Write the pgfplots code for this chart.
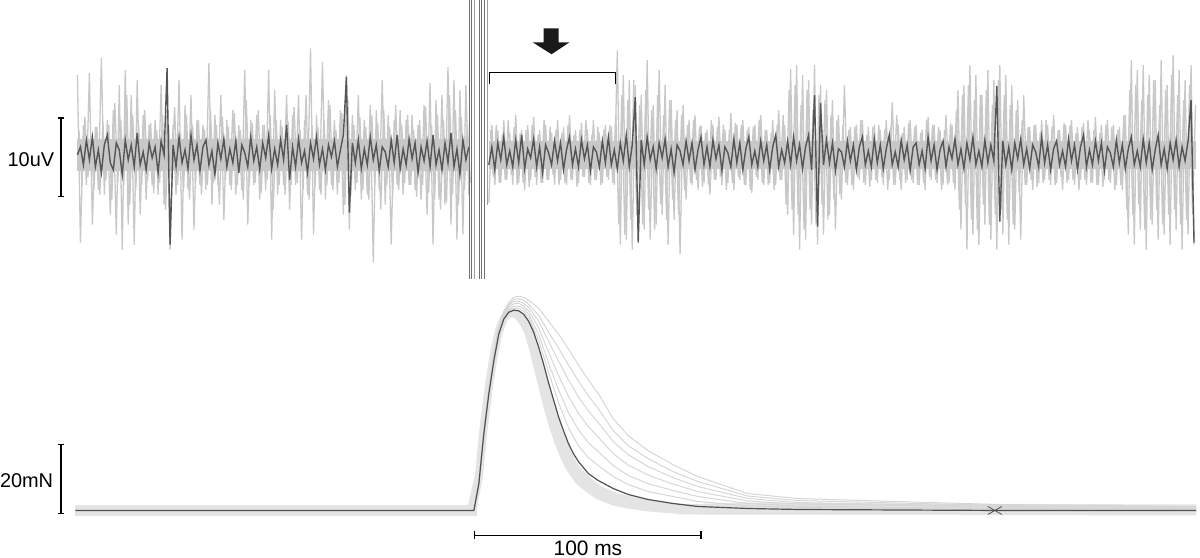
\documentclass[border=0pt]{standalone}
\usepackage{pgfplots}
\pgfplotsset{compat=1.18}
\usepackage{fontspec}
\setmainfont{Liberation Sans}
\definecolor{emglight}{RGB}{200,200,200}
\definecolor{emgdark}{RGB}{85,85,85}
\definecolor{artdark}{RGB}{112,112,112}
\definecolor{artlight}{RGB}{160,160,160}
\definecolor{arrowcol}{RGB}{26,26,26}
\definecolor{forceband}{RGB}{228,228,228}
\definecolor{forceline}{RGB}{214,214,214}
\definecolor{forcedark}{RGB}{80,80,80}
\begin{document}
\begin{tikzpicture}
% ---------------- top panel: EMG ----------------
\begin{axis}[scale only axis, width=600pt, height=279.5pt,
  xmin=0, xmax=1200, ymin=-404, ymax=155, hide axis, clip=false]
\path (axis cs:0,-404) rectangle (axis cs:1200,155);
% core band
\addplot[fill=emglight, draw=none] coordinates {(77,-16)(470,-16)(470,16)(77,16)};
\addplot[fill=emglight, draw=none] coordinates {(490,-14)(1200,-14)(1200,14)(490,14)};
% light (superimposed) EMG traces, sampled every 3 px
\addplot[emglight, line width=0.65pt, mark=none] table[header=false, row sep=\\, x expr=\coordindex*3+77, y index=0] {
80\\-88\\30\\-30\\82\\-70\\28\\-35\\97\\-40\\
35\\-60\\45\\-80\\70\\-95\\85\\-70\\60\\-90\\
75\\-60\\40\\-45\\30\\-30\\35\\-40\\70\\-50\\
45\\-95\\30\\-40\\75\\-85\\50\\-35\\60\\-75\\
35\\-30\\30\\-35\\92\\-50\\40\\-30\\60\\-65\\
35\\-30\\45\\-40\\30\\-35\\85\\-70\\35\\-30\\
40\\-45\\30\\-35\\85\\-85\\65\\-40\\35\\-30\\
60\\-55\\40\\-30\\60\\-85\\35\\-40\\107\\-80\\
40\\-35\\93\\-45\\55\\-30\\35\\-40\\45\\-60\\
80\\-75\\40\\-35\\60\\-45\\35\\-40\\50\\-108\\
45\\-35\\75\\-50\\40\\-90\\35\\-30\\45\\-40\\
35\\-30\\40\\-35\\30\\-45\\50\\-60\\72\\-90\\
55\\-45\\60\\-50\\88\\-70\\75\\-85\\65\\-80\\
70\\-40\\
};
\addplot[emglight, line width=0.65pt, mark=none] table[header=false, row sep=\\, x expr=\coordindex*3+78.5, y index=0] {
25\\-30\\38\\-22\\20\\-35\\28\\-40\\33\\-25\\
30\\-45\\52\\-28\\35\\-30\\60\\-50\\40\\-35\\
28\\-30\\45\\-25\\32\\-38\\25\\-28\\40\\-55\\
30\\-25\\48\\-30\\22\\-35\\40\\-45\\30\\-28\\
35\\-40\\25\\-30\\45\\-28\\30\\-50\\38\\-25\\
28\\-35\\42\\-30\\25\\-45\\55\\-30\\32\\-28\\
45\\-38\\30\\-25\\40\\-55\\35\\-30\\28\\-40\\
33\\-30\\48\\-28\\25\\-35\\60\\-45\\30\\-32\\
28\\-40\\35\\-30\\50\\-35\\25\\-28\\42\\-50\\
55\\-40\\30\\-28\\38\\-35\\28\\-45\\40\\-30\\
32\\-55\\45\\-30\\28\\-40\\50\\-35\\30\\-28\\
40\\-30\\25\\-42\\35\\-30\\48\\-38\\30\\-45\\
40\\-55\\35\\-48\\60\\-40\\45\\-50\\38\\-35\\
30\\-28\\
};
\addplot[emglight, line width=0.65pt, mark=none] table[header=false, row sep=\\, x expr=\coordindex*3+490, y index=0] {
-48\\30\\-30\\25\\-28\\35\\-25\\22\\-30\\40\\
-28\\25\\-35\\30\\-25\\38\\-30\\25\\-28\\30\\
-25\\22\\-30\\35\\-25\\28\\-30\\40\\-25\\25\\
-28\\32\\-22\\25\\-30\\35\\-25\\22\\-28\\30\\
-25\\28\\-30\\105\\-90\\80\\-85\\75\\-95\\70\\
-80\\60\\-75\\95\\-85\\50\\-70\\85\\-60\\70\\
-90\\55\\-65\\45\\-100\\50\\-45\\35\\-30\\40\\
-35\\30\\-28\\25\\-40\\30\\-25\\38\\-30\\25\\
-28\\42\\-35\\30\\-25\\35\\-30\\28\\-38\\30\\
-25\\40\\-30\\25\\-28\\35\\-30\\45\\-25\\30\\
-60\\86\\-80\\90\\-95\\80\\-85\\75\\-70\\90\\
-90\\70\\-80\\65\\-60\\55\\-75\\40\\-45\\70\\
-30\\28\\-35\\30\\-25\\35\\-30\\28\\-25\\30\\
-28\\25\\-30\\35\\-25\\53\\-30\\30\\-35\\28\\
-25\\35\\-28\\30\\-30\\25\\-35\\38\\-25\\30\\
-28\\25\\-30\\40\\-28\\30\\-35\\65\\-75\\70\\
-95\\90\\-80\\80\\-90\\60\\-70\\85\\-85\\75\\
-95\\90\\-80\\80\\-90\\70\\-75\\55\\-85\\60\\
-30\\28\\-35\\30\\-28\\35\\-25\\30\\-30\\40\\
-28\\25\\-35\\30\\-25\\35\\-30\\28\\-25\\32\\
-30\\25\\-28\\38\\-30\\30\\-25\\35\\-28\\30\\
-30\\28\\-35\\40\\-80\\95\\-90\\85\\-75\\90\\
-95\\80\\-70\\75\\-85\\95\\-80\\70\\-90\\100\\
-75\\85\\-95\\75\\-80\\90\\-90\\
};
\addplot[emglight, line width=0.65pt, mark=none] table[header=false, row sep=\\, x expr=\coordindex*3+491.5, y index=0] {
25\\-22\\30\\-28\\20\\-25\\35\\-20\\28\\-30\\
22\\-28\\25\\-32\\30\\-22\\20\\-28\\35\\-25\\
28\\-20\\25\\-30\\22\\-28\\30\\-25\\20\\-32\\
25\\-22\\35\\-28\\20\\-25\\28\\-30\\25\\-22\\
30\\-28\\40\\-70\\60\\-80\\55\\-65\\75\\-60\\
50\\-70\\65\\-55\\45\\-75\\60\\-50\\40\\-65\\
55\\-45\\35\\-60\\40\\-35\\30\\-28\\35\\-25\\
28\\-32\\22\\-30\\35\\-25\\28\\-22\\30\\-35\\
25\\-28\\32\\-22\\30\\-30\\25\\-35\\28\\-22\\
35\\-28\\25\\-30\\22\\-35\\30\\-25\\40\\-50\\
65\\-55\\70\\-60\\50\\-75\\65\\-55\\45\\-70\\
60\\-50\\55\\-65\\40\\-45\\35\\-40\\30\\-28\\
25\\-30\\28\\-22\\35\\-28\\20\\-32\\28\\-25\\
30\\-22\\25\\-35\\28\\-30\\40\\-25\\22\\-28\\
32\\-25\\28\\-30\\22\\-28\\35\\-22\\30\\-25\\
28\\-35\\25\\-30\\32\\-28\\45\\-55\\60\\-50\\
70\\-65\\55\\-75\\60\\-50\\65\\-70\\50\\-60\\
75\\-55\\60\\-65\\50\\-70\\45\\-40\\35\\-30\\
28\\-25\\30\\-32\\22\\-28\\35\\-25\\28\\-30\\
25\\-22\\32\\-28\\30\\-25\\22\\-35\\28\\-25\\
35\\-28\\25\\-30\\22\\-32\\30\\-25\\28\\-35\\
25\\-30\\40\\-55\\65\\-60\\70\\-50\\55\\-75\\
60\\-65\\75\\-55\\50\\-70\\65\\-60\\80\\-55\\
60\\-70\\55\\-65\\70\\-60\\50\\
};
% dark (single) EMG trace
\addplot[emgdark, line width=0.7pt, mark=none] table[header=false, row sep=\\, x expr=\coordindex*3+77, y index=0] {
0\\8\\-10\\15\\-5\\18\\-12\\5\\-18\\10\\
20\\-8\\-15\\12\\5\\-20\\15\\-5\\10\\-12\\
22\\-10\\3\\-15\\12\\-3\\8\\-18\\14\\0\\
87\\-90\\10\\-12\\18\\-8\\5\\-14\\20\\-5\\
10\\-16\\8\\15\\-10\\4\\-20\\12\\-4\\16\\
-12\\6\\-8\\14\\-18\\10\\2\\-12\\18\\-6\\
8\\-15\\12\\-3\\20\\-14\\6\\-10\\15\\-5\\
30\\-25\\8\\-12\\16\\-8\\4\\-18\\12\\-4\\
18\\-10\\6\\-15\\10\\-2\\14\\-12\\5\\20\\
78\\-58\\12\\-8\\15\\-14\\6\\-10\\18\\-5\\
10\\-16\\8\\3\\-12\\15\\-8\\20\\-14\\6\\
-10\\16\\-4\\12\\-18\\8\\-6\\14\\-12\\20\\
-10\\5\\-15\\12\\-8\\22\\-12\\6\\-20\\15\\
-5\\8\\
};
\addplot[emgdark, line width=0.7pt, mark=none] table[header=false, row sep=\\, x expr=\coordindex*3+490, y index=0] {
-10\\8\\-15\\12\\-5\\18\\-10\\4\\-12\\15\\
-8\\20\\-14\\6\\-3\\16\\-12\\8\\-18\\10\\
2\\-10\\14\\-6\\12\\-15\\5\\18\\-10\\6\\
-12\\15\\-4\\10\\-16\\8\\3\\-12\\14\\-8\\
18\\-10\\5\\-14\\12\\-6\\20\\-12\\10\\58\\
-88\\15\\-10\\18\\-5\\8\\-14\\12\\-3\\16\\
-12\\6\\-18\\10\\4\\-10\\14\\-6\\12\\-15\\
5\\18\\-10\\8\\-12\\15\\-4\\10\\-16\\8\\
2\\-12\\16\\-8\\12\\-15\\6\\18\\-10\\4\\
-12\\14\\-6\\10\\-15\\8\\20\\-12\\5\\-8\\
14\\-10\\18\\-6\\10\\-14\\8\\20\\-15\\60\\
-72\\52\\-10\\15\\-8\\12\\-16\\6\\3\\-12\\
14\\-6\\10\\-15\\8\\18\\-10\\4\\-12\\16\\
-8\\10\\-14\\6\\20\\-10\\3\\-12\\15\\-5\\
10\\-16\\8\\12\\-10\\4\\-14\\18\\-6\\10\\
-15\\5\\14\\-12\\8\\-4\\16\\-10\\6\\-14\\
12\\-5\\18\\-10\\4\\-12\\15\\-8\\10\\-6\\
69\\-67\\14\\-10\\8\\-15\\12\\-4\\16\\-10\\
6\\-14\\10\\3\\-12\\18\\-8\\10\\-15\\6\\
14\\-10\\4\\-12\\16\\-6\\10\\-15\\8\\20\\
-12\\5\\-10\\14\\-6\\12\\-16\\8\\2\\-12\\
15\\-8\\10\\-14\\6\\18\\-10\\4\\-12\\16\\
-8\\12\\-15\\5\\20\\-10\\6\\-14\\12\\-5\\
15\\-12\\8\\-6\\14\\55\\-88\\
};
% stimulus artefact
\addplot[artdark, line width=0.5pt] coordinates {(470.8,155)(470.8,-125)};
\addplot[artdark, line width=0.5pt] coordinates {(472.9,155)(472.9,-125)};
\addplot[artlight, line width=0.5pt] coordinates {(475.6,155)(475.6,-125)};
\addplot[artdark, line width=0.5pt] coordinates {(480.2,155)(480.2,-125)};
\addplot[artdark, line width=0.5pt] coordinates {(482.4,155)(482.4,-125)};
\addplot[artdark, line width=0.5pt] coordinates {(485.3,155)(485.3,-125)};
\addplot[artlight, line width=0.5pt] coordinates {(488.2,155)(488.2,-50)};
% bracket and arrow
\draw[black, line width=0.6pt] (axis cs:491,71) -- (axis cs:491,83) -- (axis cs:617,83) -- (axis cs:617,71);
\fill[arrowcol] (axis cs:545,127) -- (axis cs:560,127) -- (axis cs:560,113) -- (axis cs:571,113)
  -- (axis cs:553,101) -- (axis cs:534,113) -- (axis cs:545,113) -- cycle;
% 10 uV scale bar
\draw[black, line width=0.6pt] (axis cs:57,37) -- (axis cs:64,37)
  (axis cs:60.5,37) -- (axis cs:60.5,-42) (axis cs:57,-42) -- (axis cs:64,-42);
\node[anchor=east, inner sep=0pt, font=\fontsize{10}{12}\selectfont] at (axis cs:54,-5) {10uV};
\end{axis}
% ---------------- bottom panel: force ----------------
\begin{axis}[scale only axis, width=600pt, height=279.5pt,
  xmin=0, xmax=1200, ymin=-47, ymax=512, hide axis, clip=false]
\addplot[fill=forceband, draw=none] coordinates {(75,-6)(478,-6)(478,5)(75,5)};
\addplot[fill=forceband, draw=none] coordinates {(680,-4)(1200,-5)(1200,6)(900,7)(750,8)(680,6)};
% dense band of fast twitches
\addplot[forceband, line width=4pt, line join=round, mark=none] coordinates {
(75,0)(472,0)(480,35)(485,85)(490,125)(495,157)(500,180)(505,193)(510,198)(515,198)(520,195)
(525,188)(530,178)(535,160)(540,140)(545,120)(550,100)(555,83)(560,68)(565,56)(570,45)(580,30)
(590,22)(600,15)(615,9)(630,6)(650,3)(675,1)(700,0)(1200,0)};
\addplot[forceband, line width=3.5pt, line join=round, mark=none] coordinates {
(75,0)(474,0)(480,31)(485,81)(490,121)(495,153)(500,178)(505,192)(510,198)(515,199)(520,197)
(525,192)(530,184)(535,169)(540,152)(545,133)(550,114)(555,97)(560,81)(565,68)(570,56)(575,47)(580,40)
(590,30)(600,22)(615,15)(630,11)(650,7)(675,4)(700,2)(750,1)(800,0.5)(1000,0)(1200,0)};
% slower twitches
\addplot[forceline, line width=0.5pt, mark=none] coordinates {
(475,0)(480,27)(485,77.5)(490,118)(495,151)(500,178)(505,193)(510,201)(515,203)(520,203)(525,200)
(530,194)(540,171)(550,139)(560,108)(570,83)(580,65)(590,53)(600,45)(615,34)(630,26)(650,19)
(675,14)(700,9)(750,4.5)(800,3)(900,2)(1000,1)(1200,0.7)};
\addplot[forceline, line width=0.5pt, mark=none] coordinates {
(475,0)(480,27)(485,78)(490,119)(495,153)(500,179)(505,195)(510,202)(515,205)(520,205)(525,203)
(530,197)(540,177)(550,148)(560,121)(570,98)(580,81)(590,68)(600,59)(615,45)(630,35)(650,27)
(675,20)(700,14)(750,7)(800,4.5)(900,3)(1000,2)(1200,1.3)};
\addplot[forceline, line width=0.5pt, mark=none] coordinates {
(475,0)(480,27.5)(485,78.5)(490,119.5)(495,154)(500,180.5)(505,196)(510,204)(515,207.5)(520,208)
(525,205.5)(530,200.5)(540,183.5)(550,159)(560,135.5)(570,114.5)(580,97.5)(590,84)(600,73.5)
(615,57)(630,45.5)(650,35.5)(675,26.5)(700,19)(750,9.5)(800,6.5)(900,5)(1000,3)(1200,2)};
\addplot[forceline, line width=0.5pt, mark=none] coordinates {
(475,0)(480,28)(485,79)(490,120)(495,155)(500,182)(505,197)(510,206)(515,210)(520,210)(525,208)
(530,204)(540,190)(550,170)(560,150)(570,131)(580,114)(590,100)(600,88)(615,69)(630,56)(650,44)
(675,33)(700,24)(750,12)(800,8)(900,6)(1000,4)(1200,2.7)};
\addplot[forceline, line width=0.5pt, mark=none] coordinates {
(475,0)(480,28)(485,79.5)(490,121)(495,157)(500,183)(505,199)(510,207)(515,212)(520,212.5)(525,211)
(530,207)(540,196)(550,179)(560,163)(570,146)(580,130)(590,115)(600,102)(615,80)(630,65)(650,52)
(675,39)(700,29)(750,14.5)(800,10)(900,7.5)(1000,5)(1200,3.3)};
\addplot[forceline, line width=0.5pt, mark=none] coordinates {
(475,0)(480,28)(485,80)(490,122)(495,158)(500,184)(505,200)(510,209)(515,214)(520,215)(525,214)
(530,211)(540,203)(550,190)(560,177)(570,162)(580,146)(590,131)(600,117)(615,92)(630,75)(650,60)
(675,46)(700,34)(750,17)(800,12)(900,9)(1000,6)(1200,4)};
% highlighted twitch
\addplot[forcedark, line width=0.6pt, mark=none] coordinates {
(75,0)(475,0)(480,27)(485,77)(490,117)(495,150)(500,177)(505,192)(510,199)(515,201)(520,200.5)
(525,197)(530,190)(535,179)(540,164)(545,147)(550,128)(555,111)(560,94)(565,80)(570,67)(575,57)
(580,49)(590,37)(600,30)(615,22)(630,16)(650,11)(675,7)(700,4)(750,2)(800,1)(900,0.5)(1000,0)(1200,0)};
\addplot[forcedark, line width=0.4pt, mark=none] coordinates {(991,4)(998,0)(991,-4)};
\addplot[forcedark, line width=0.4pt, mark=none] coordinates {(1005,4)(998,0)(1005,-4)};
% 20 mN scale bar
\draw[black, line width=0.6pt] (axis cs:57,66) -- (axis cs:64,66)
  (axis cs:60.5,66) -- (axis cs:60.5,-3) (axis cs:57,-3) -- (axis cs:64,-3);
\node[anchor=east, inner sep=0pt, font=\fontsize{10}{12}\selectfont] at (axis cs:53,30) {20mN};
% 100 ms time bar
\draw[black, line width=0.6pt] (axis cs:476,-25) -- (axis cs:703,-25)
  (axis cs:476,-21) -- (axis cs:476,-29) (axis cs:703,-21) -- (axis cs:703,-29);
\node[anchor=base, inner sep=0pt, font=\fontsize{10.5}{12}\selectfont] at (axis cs:589.5,-45) {100 ms};
\end{axis}
\end{tikzpicture}
\end{document}
